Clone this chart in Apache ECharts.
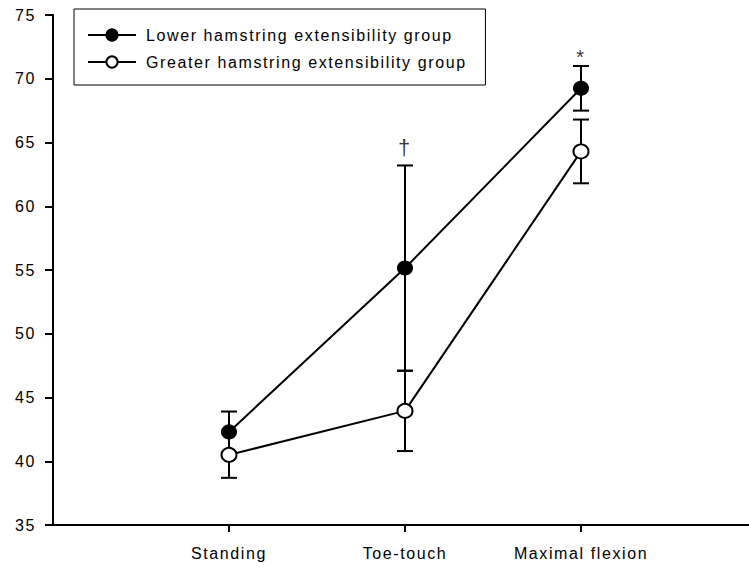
<!DOCTYPE html>
<html><head><meta charset="utf-8">
<script src="https://cdn.jsdelivr.net/npm/echarts@6/dist/echarts.min.js"></script>
<style>html,body{margin:0;padding:0;background:#fff}#c{width:749px;height:567px}#c text{letter-spacing:1.6px}</style>
</head><body><div id="c"></div>
<script>
// ---- data ----
const categories = ['', 'Standing', 'Toe-touch', 'Maximal flexion', ''];
const conditions = ['Standing', 'Toe-touch', 'Maximal flexion'];
const lowerMean = [42.3, 55.15, 69.25];
const lowerSD = [1.6, 8.05, 1.75];
const greaterMean = [40.5, 43.95, 64.3];
const greaterSD = [1.8, 3.15, 2.5];
const seriesNames = ['Lower hamstring extensibility group', 'Greater hamstring extensibility group'];
const annotationCats = ['Toe-touch', 'Maximal flexion'];
const annotationValues = [64.6, 71.72];
const annotationTexts = ['\u2020', '*'];
const yMin = 35, yMax = 75, yInterval = 5;

const FONT = '"Liberation Sans", Arial, sans-serif';
const chart = echarts.init(document.getElementById('c'), null, {renderer: 'svg'});

function errData(means, sds) {
  return conditions.map((c, i) => [c, means[i], sds[i]]);
}
function errRender(params, api) {
  const x = api.value(0), m = api.value(1), s = api.value(2);
  const hi = api.coord([x, m + s]);
  const lo = api.coord([x, m - s]);
  const w = 8;
  const st = {stroke: '#000', lineWidth: 2};
  return {
    type: 'group',
    children: [
      {type: 'line', shape: {x1: hi[0], y1: hi[1], x2: lo[0], y2: lo[1]}, style: st},
      {type: 'line', shape: {x1: hi[0] - w, y1: hi[1], x2: hi[0] + w, y2: hi[1]}, style: st},
      {type: 'line', shape: {x1: lo[0] - w, y1: lo[1], x2: lo[0] + w, y2: lo[1]}, style: st}
    ]
  };
}

chart.setOption({
  animation: false,
  backgroundColor: '#fff',
  textStyle: {fontFamily: FONT},
  grid: {left: 53, top: 15, bottom: 42, right: -8, containLabel: false, outerBoundsMode: 'none'},
  legend: {
    data: seriesNames,
    orient: 'vertical',
    left: 74, top: 9,
    itemWidth: 48, itemHeight: 14, itemGap: 11,
    padding: [18, 78, 15, 13],
    borderColor: '#000', borderWidth: 1,
    textStyle: {fontSize: 16, color: '#000', fontFamily: FONT, padding: [0, 0, 0, 5]}
  },
  xAxis: {
    type: 'category',
    data: categories,
    boundaryGap: false,
    axisLine: {lineStyle: {color: '#000', width: 2}},
    axisTick: {show: true, length: 7, lineStyle: {color: '#000', width: 2},
      interval: (idx, val) => val !== ''},
    axisLabel: {color: '#000', fontSize: 16, fontFamily: FONT, margin: 20, interval: 0},
    splitLine: {show: false}
  },
  yAxis: {
    type: 'value',
    min: yMin, max: yMax, interval: yInterval,
    axisLine: {show: true, lineStyle: {color: '#000', width: 2}},
    axisTick: {show: true, length: 8, lineStyle: {color: '#000', width: 2}},
    axisLabel: {color: '#000', fontSize: 16, fontFamily: FONT, margin: 17},
    splitLine: {show: false}
  },
  series: [
    {type: 'custom', name: 'errLower', renderItem: errRender, data: errData(lowerMean, lowerSD), z: 1, silent: true},
    {type: 'custom', name: 'errGreater', renderItem: errRender, data: errData(greaterMean, greaterSD), z: 1, silent: true},
    {
      type: 'line', name: seriesNames[0], z: 3,
      data: conditions.map((c, i) => [c, lowerMean[i]]),
      symbol: 'circle', symbolSize: [15, 14],
      lineStyle: {color: '#000', width: 2},
      itemStyle: {color: '#000', borderColor: '#000', borderWidth: 1}
    },
    {
      type: 'line', name: seriesNames[1], z: 4,
      data: conditions.map((c, i) => [c, greaterMean[i]]),
      symbol: 'circle', symbolSize: [15, 14],
      lineStyle: {color: '#000', width: 2},
      itemStyle: {color: '#fff', borderColor: '#000', borderWidth: 2}
    },
    {
      type: 'scatter', name: 'annotations', z: 5, silent: true,
      symbolSize: 0,
      data: annotationCats.map((c, i) => ({value: [c, annotationValues[i]], label: {formatter: annotationTexts[i], fontSize: i === 0 ? 22 : 20}})),
      label: {show: true, position: 'inside', color: '#000', fontFamily: FONT}
    }
  ]
});
</script>
</body></html>
